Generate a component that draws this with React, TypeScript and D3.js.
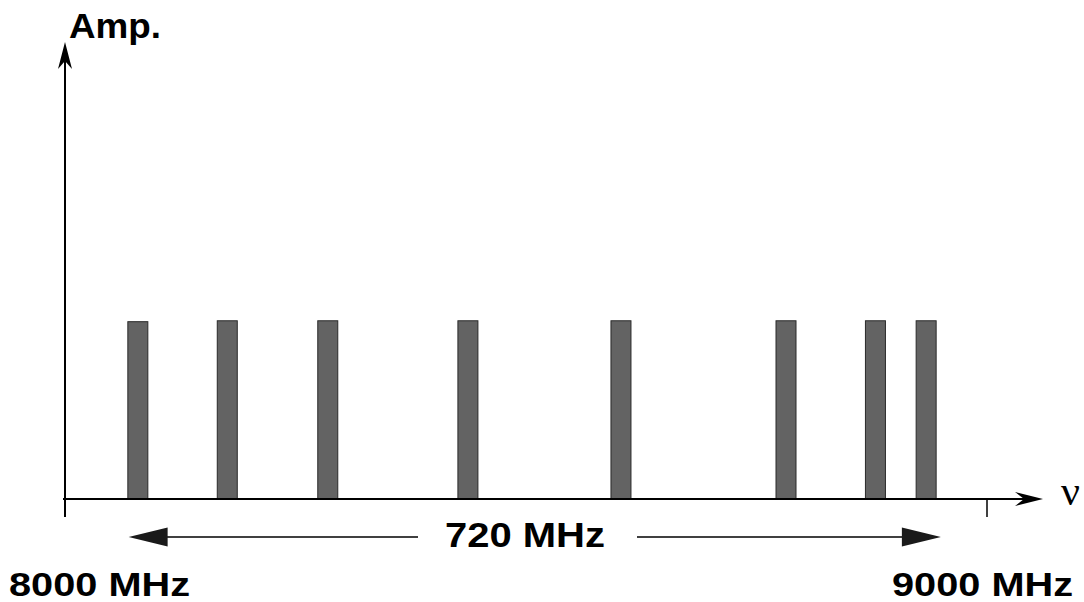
import React from "react";
import * as d3 from "d3";

// Line frequencies (MHz) and their amplitudes (arbitrary units)
const frequencies = [8079, 8176, 8285, 8437, 8603, 8782, 8879, 8934];
const amplitudes = [0.388, 0.39, 0.39, 0.39, 0.39, 0.39, 0.39, 0.39];
// Axis end labels and the marked band
const axisTicks = [8000, 9000];
const tickLabels = ["8000 MHz", "9000 MHz"];
const bandStart = 8069;
const bandEnd = 8950;
const bandLabel = "720 MHz";
const yLabel = "Amp.";
const xLabel = "ν";

const W = 1084;
const H = 602;

export default function App() {
  const x = d3.scaleLinear().domain([8000, 9000]).range([65, 987]);
  const y = d3.scaleLinear().domain([0, 1]).range([499, 42]);
  const barW = 20;
  const y0 = y(0);
  const axisX = x(8000);
  const bandY = 537;
  const xs = x(bandStart);
  const xe = x(bandEnd);

  return (
    <svg
      width={W}
      height={H}
      style={{ position: "absolute", left: 0, top: 0, background: "#fff" }}
      fontFamily="'Liberation Sans', Arial, Helvetica, sans-serif"
    >
      {/* bars */}
      {frequencies.map((f, i) => (
        <rect
          key={i}
          x={x(f) - barW / 2}
          y={y(amplitudes[i])}
          width={barW}
          height={y0 - y(amplitudes[i])}
          fill="#636363"
          stroke="#2a2a2a"
          strokeWidth={1}
        />
      ))}
      {/* y axis */}
      <line x1={axisX} y1={517} x2={axisX} y2={y(1) + 14} stroke="#000" strokeWidth={2} />
      <path
        d={`M${axisX},${y(1)} L${axisX + 7},${y(1) + 27} L${axisX},${y(1) + 19} L${axisX - 7},${y(1) + 27} Z`}
        fill="#000"
      />
      {/* x axis */}
      <line x1={63} y1={y0} x2={1030} y2={y0} stroke="#000" strokeWidth={2} />
      <path
        d={`M1043,${y0} L1015,${y0 - 7} L1024,${y0} L1015,${y0 + 7} Z`}
        fill="#000"
      />
      {/* tick marks */}
      {axisTicks.map((t, i) => (
        <line key={i} x1={x(t)} y1={y0} x2={x(t)} y2={517} stroke="#000" strokeWidth={1.5} />
      ))}
      {/* band double arrow */}
      <line x1={xs + 30} y1={bandY} x2={418} y2={bandY} stroke="#000" strokeWidth={1.5} />
      <line x1={637} y1={bandY} x2={xe - 30} y2={bandY} stroke="#000" strokeWidth={1.5} />
      <path d={`M${xs},${bandY} L${xs + 39},${bandY - 9.5} L${xs + 39},${bandY + 9.5} Z`} fill="#1a1a1a" />
      <path d={`M${xe},${bandY} L${xe - 39},${bandY - 9.5} L${xe - 39},${bandY + 9.5} Z`} fill="#1a1a1a" />
      <text x={445} y={546.5} fontSize={35} fontWeight="bold" textLength={160} lengthAdjust="spacingAndGlyphs">
        {bandLabel}
      </text>
      {/* labels */}
      <text x={69} y={37.5} fontSize={35} fontWeight="bold" textLength={92} lengthAdjust="spacingAndGlyphs">
        {yLabel}
      </text>
      <text x={9} y={596} fontSize={34} fontWeight="bold" textLength={181} lengthAdjust="spacingAndGlyphs">
        {tickLabels[0]}
      </text>
      <text x={892} y={596} fontSize={34} fontWeight="bold" textLength={181} lengthAdjust="spacingAndGlyphs">
        {tickLabels[1]}
      </text>
      <text x={1061} y={505} fontSize={42} fontFamily="'Liberation Serif', 'DejaVu Serif', serif">
        {xLabel}
      </text>
    </svg>
  );
}
